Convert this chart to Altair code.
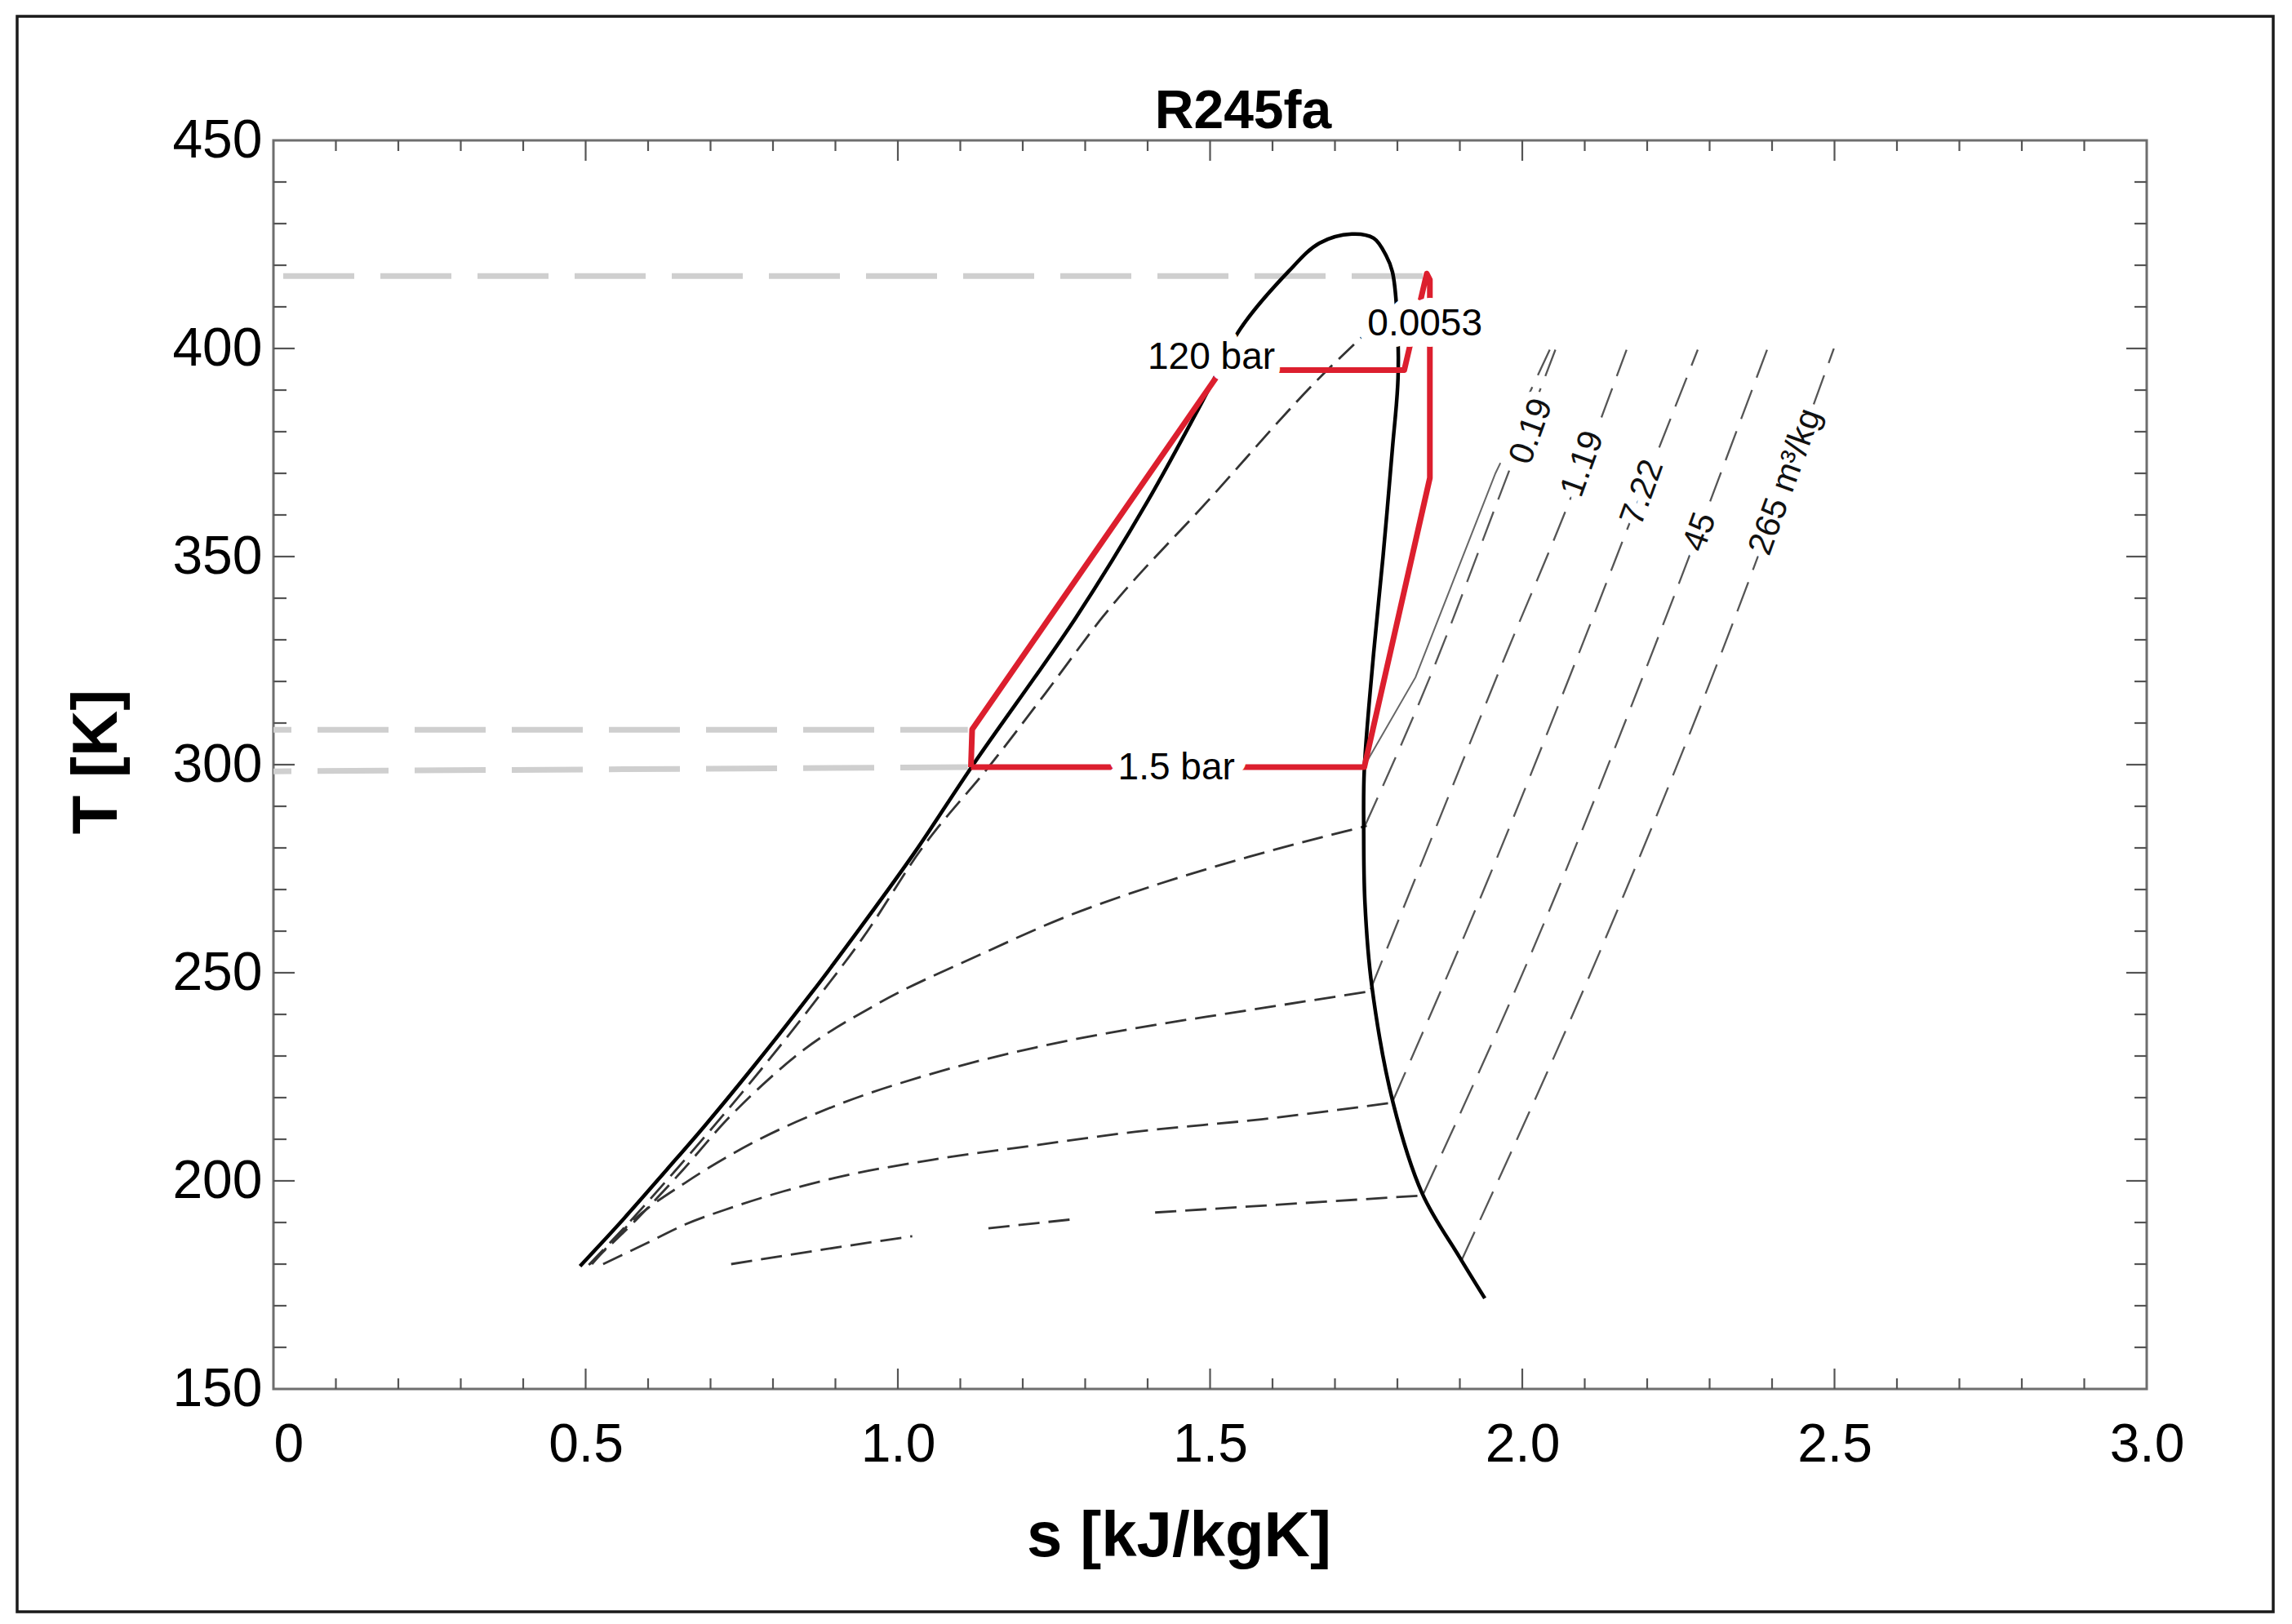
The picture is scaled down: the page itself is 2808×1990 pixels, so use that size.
import altair as alt
import pandas as pd

FONT = "Liberation Sans"
W, H = 2295, 1530

# ---------------- saturation dome (liquid branch -> critical point -> vapor branch)
dome_s = [0.491, 0.561, 0.630, 0.690, 0.769, 0.862, 0.927, 1.025, 1.122, 1.285, 1.400,
          1.498, 1.548, 1.625, 1.675, 1.727, 1.762, 1.782, 1.792, 1.799, 1.801, 1.792,
          1.777, 1.762, 1.747, 1.746, 1.748, 1.759, 1.793, 1.840, 1.899, 1.940]
dome_T = [179.5, 190.9, 202.7, 213.1, 227.5, 245.2, 258.2, 278.5, 300.3, 335.3, 363.3,
          390.2, 404.6, 418.4, 425.3, 427.5, 426.5, 422.3, 418.4, 409.2, 392.9, 375.9,
          350.0, 326.9, 298.8, 285.0, 266.9, 246.9, 218.8, 196.9, 181.8, 171.8]

# ---------------- isochores inside the two-phase region
v0053_in_s = [0.505, 0.575, 0.645, 0.705, 0.785, 0.878, 0.943, 1.038, 1.150, 1.236, 1.327, 1.496, 1.683, 1.747]
v0053_in_T = [179.8, 190.9, 202.7, 213.1, 227.5, 245.2, 258.2, 279.8, 300.3, 317.1, 335.3, 363.3, 394.1, 403.3]
v019_in_s = [0.507, 0.580, 0.655, 0.725, 0.790, 0.845, 0.967, 1.131, 1.270, 1.411, 1.561, 1.751]
v019_in_T = [180.0, 190.5, 202.5, 214.5, 224.0, 231.0, 242.5, 254.3, 263.5, 271.0, 277.8, 285.3]
v119_in_s = [0.510, 0.580, 0.659, 0.772, 0.899, 1.065, 1.222, 1.381, 1.545, 1.754]
v119_in_T = [180.0, 191.0, 199.5, 209.5, 218.0, 226.2, 232.1, 236.7, 240.6, 245.5]
v722_in_s = [0.528, 0.592, 0.659, 0.734, 0.817, 0.899, 1.065, 1.222, 1.380, 1.582, 1.793]
v722_in_T = [180.0, 184.6, 189.5, 193.6, 197.5, 200.7, 205.3, 208.6, 211.8, 214.8, 218.8]
v45_in_a_s = [0.733, 0.880, 1.023]
v45_in_a_T = [180.0, 183.5, 186.7]
v45_in_b_s = [1.145, 1.282]
v45_in_b_T = [188.6, 190.8]
v45_in_c_s = [1.412, 1.600, 1.842]
v45_in_c_T = [192.4, 194.2, 196.5]

# ---------------- isochores in the superheated vapor region
v019_out_s = [1.748, 1.852, 1.969, 2.053]
v019_out_T = [285.3, 321.0, 366.7, 399.7]
v019b_solid_s = [1.746, 1.829, 1.957, 1.965]
v019b_solid_T = [299.4, 321.0, 370.0, 372.5]
v019b_top_s = [1.995, 2.044]
v019b_top_T = [384.0, 399.7]
v119_out_s = [1.757, 1.866, 1.975, 2.071, 2.167]
v119_out_T = [246.0, 286.5, 326.9, 361.6, 399.7]
v722_out_s = [1.793, 1.944, 2.091, 2.191, 2.281]
v722_out_T = [219.3, 272.0, 326.9, 365.4, 399.7]
v45_out_s = [1.842, 2.035, 2.208, 2.392]
v45_out_T = [197.0, 262.0, 326.9, 399.7]
v265_out_s = [1.903, 2.132, 2.319, 2.499]
v265_out_T = [181.0, 257.8, 326.9, 400.0]

# ---------------- ORC cycle (red)
cycle_s = [1.117, 1.119, 1.518, 1.811, 1.847, 1.852, 1.852, 1.747, 1.117]
cycle_T = [299.4, 308.5, 394.8, 394.8, 418.0, 416.5, 368.9, 299.4, 299.4]

# ---------------- grey temperature guide lines
g417_s = [0.0, 1.849]
g417_T = [417.4, 417.4]
g308_s = [0.0, 1.112]
g308_T = [308.4, 308.4]
g299_s = [0.0, 1.112]
g299_T = [298.4, 299.4]

# ---------------- labels
chart_title = "R245fa"
iso_lab_text = ["0.19", "1.19", "7.22", "45", "265 m³/kg"]
iso_lab_s = [2.014, 2.096, 2.192, 2.284, 2.421]
iso_lab_T = [380.1, 372.3, 365.4, 355.9, 368.0]
box_lab_text = ["120 bar", "1.5 bar", "0.0053"]
box_lab_s = [1.502, 1.446, 1.844]
box_lab_T = [397.8, 299.2, 405.9]

# ---------------- frame ticks
x_ticks = [0.0, 0.5, 1.0, 1.5, 2.0, 2.5, 3.0]
y_ticks = [150, 200, 250, 300, 350, 400, 450]
s_minor = [round(0.1 * i, 1) for i in range(1, 30) if i % 5]
s_major = [0.5, 1.0, 1.5, 2.0, 2.5]
T_minor = [150 + 10 * i for i in range(1, 30) if i % 5]
T_major = [200, 250, 300, 350, 400]


def tbl(s, T, name):
    return pd.DataFrame({"s": s, "T": T, "series": name, "i": list(range(len(s)))})


xs = alt.Scale(domain=[0, 3], nice=False, zero=False)
ys = alt.Scale(domain=[150, 450], nice=False, zero=False)

x_axis = alt.Axis(values=x_ticks,
                  labelExpr="datum.value == 0 ? '0' : format(datum.value, '.1f')",
                  labelAlign={"condition": {"test": "datum.value == 0", "value": "left"},
                              "value": "center"},
                  labelFont=FONT, labelFontSize=66, labelColor="black", labelPadding=36,
                  ticks=False, domain=False, grid=False, labelFlush=False, labelOverlap=False,
                  title="s [kJ/kgK]", titleFont=FONT, titleFontSize=78, titleFontWeight="bold",
                  titleColor="black", titleX=1109, titleY=204, titleBaseline="alphabetic",
                  titleAlign="center")
y_axis = alt.Axis(values=y_ticks, format="d", labelFont=FONT, labelFontSize=66,
                  labelColor="black", labelPadding=14, ticks=False, domain=False, grid=False,
                  labelFlush=False, labelOverlap=False,
                  title="T [K]", titleFont=FONT, titleFontSize=78, titleFontWeight="bold",
                  titleColor="black", titleX=-193, titleY=761, titleAngle=270,
                  titleBaseline="alphabetic", titleAlign="center")


def xenc():
    return alt.X("s:Q", scale=xs, axis=x_axis)


def yenc():
    return alt.Y("T:Q", scale=ys, axis=y_axis)


def lines(df, **mark):
    return alt.Chart(df).mark_line(**mark).encode(
        x=xenc(), y=yenc(), detail="series:N", order="i:Q")


# grey guides
grey_a = lines(tbl(g417_s, g417_T, "g417"), color="#cfcfcf", strokeWidth=7,
               strokeDash=[87, 32], strokeDashOffset=107)
grey_b = lines(pd.concat([tbl(g308_s, g308_T, "g308"), tbl(g299_s, g299_T, "g299")]),
               color="#cfcfcf", strokeWidth=7, strokeDash=[87, 32], strokeDashOffset=65)

iso_in = lines(pd.concat([
    tbl(v0053_in_s, v0053_in_T, "0.0053"), tbl(v019_in_s, v019_in_T, "0.19"),
    tbl(v119_in_s, v119_in_T, "1.19"), tbl(v722_in_s, v722_in_T, "7.22"),
    tbl(v45_in_a_s, v45_in_a_T, "45a"), tbl(v45_in_b_s, v45_in_b_T, "45b"),
    tbl(v45_in_c_s, v45_in_c_T, "45c")]),
    color="#333333", strokeWidth=2.8, strokeDash=[26, 11], interpolate="monotone")

iso_out = lines(pd.concat([
    tbl(v019_out_s, v019_out_T, "0.19"), tbl(v019b_top_s, v019b_top_T, "0.19b"),
    tbl(v119_out_s, v119_out_T, "1.19"), tbl(v722_out_s, v722_out_T, "7.22"),
    tbl(v45_out_s, v45_out_T, "45"), tbl(v265_out_s, v265_out_T, "265")]),
    color="#555555", strokeWidth=2.3, strokeDash=[38, 16], interpolate="monotone")

iso_solid = lines(tbl(v019b_solid_s, v019b_solid_T, "0.19s"), color="#666666", strokeWidth=2)

dome = alt.Chart(tbl(dome_s, dome_T, "dome")).mark_line(
    color="black", strokeWidth=4.5, interpolate="catmull-rom").encode(
    x=xenc(), y=yenc(), order="i:Q")

cycle = lines(tbl(cycle_s, cycle_T, "cycle"), color="#dc1f2e", strokeWidth=7,
              strokeJoin="round")

box_df = pd.DataFrame({"s": box_lab_s, "T": box_lab_T, "label": box_lab_text})
box_halo = alt.Chart(box_df).mark_text(font=FONT, fontSize=46, color="white", stroke="white",
                                       strokeWidth=28, strokeJoin="round",
                                       baseline="middle", align="center").encode(
    x=xenc(), y=yenc(), text="label:N")
box_txt = alt.Chart(box_df).mark_text(font=FONT, fontSize=46, color="black",
                                      baseline="middle", align="center").encode(
    x=xenc(), y=yenc(), text="label:N")

iso_df = pd.DataFrame({"s": iso_lab_s, "T": iso_lab_T, "label": iso_lab_text})
iso_halo = alt.Chart(iso_df).mark_text(font=FONT, fontSize=42, angle=290, color="white",
                                       stroke="white", strokeWidth=20, strokeJoin="round",
                                       baseline="middle", align="center").encode(
    x=xenc(), y=yenc(), text="label:N")
iso_txt = alt.Chart(iso_df).mark_text(font=FONT, fontSize=42, angle=290, color="#111111",
                                      baseline="middle", align="center").encode(
    x=xenc(), y=yenc(), text="label:N")

TICK = "#555555"
sm = pd.DataFrame({"s": s_minor})
sM = pd.DataFrame({"s": s_major})
tm = pd.DataFrame({"T": T_minor})
tM = pd.DataFrame({"T": T_major})


def xtick(df, y0, y1):
    return alt.Chart(df).mark_rule(color=TICK, strokeWidth=2.2).encode(
        x=xenc(), y=alt.value(y0), y2=alt.value(y1))


def ytick(df, x0, x1):
    return alt.Chart(df).mark_rule(color=TICK, strokeWidth=2.2).encode(
        y=yenc(), x=alt.value(x0), x2=alt.value(x1))


ticks = [xtick(sm, H, H - 13), xtick(sM, H, H - 25), xtick(sm, 0, 13), xtick(sM, 0, 25),
         ytick(tm, 0, 16), ytick(tM, 0, 26), ytick(tm, W, W - 15), ytick(tM, W, W - 25)]

title_mark = alt.Chart(pd.DataFrame({"t": [chart_title]})).mark_text(
    font=FONT, fontSize=66, fontWeight="bold", color="black", align="center",
    baseline="alphabetic").encode(x=alt.value(1188), y=alt.value(-15), text="t:N")

outer = alt.Chart(pd.DataFrame({"k": [0]})).mark_rect(
    fillOpacity=0, stroke="#1a1a1a", strokeWidth=3.5).encode(
    x=alt.value(-314), x2=alt.value(2450), y=alt.value(-152), y2=alt.value(1803))

chart = alt.layer(
    grey_a, grey_b, iso_in, iso_out, iso_solid, dome, cycle,
    box_halo, box_txt, iso_halo, iso_txt, *ticks, title_mark, outer
).properties(
    width=W, height=H,
    padding={"left": 327, "top": 164, "right": 170, "bottom": 280},
    autosize=alt.AutoSizeParams(type="none"),
    background="white",
).configure_view(stroke="#6e6e6e", strokeWidth=3)

chart.save("out.html", embed_options={"renderer": "svg", "actions": False})
